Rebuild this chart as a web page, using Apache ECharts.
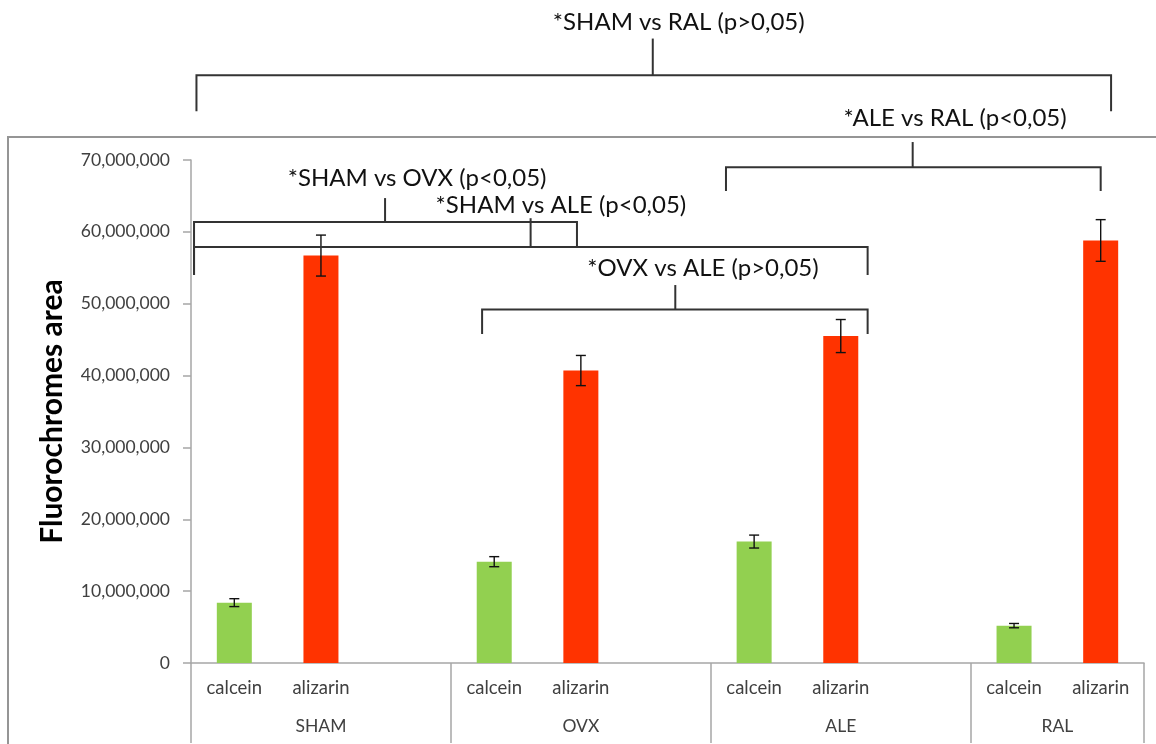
<!DOCTYPE html>
<html>
<head>
<meta charset="utf-8">
<script src="https://cdn.jsdelivr.net/npm/echarts@6/dist/echarts.min.js"></script>
<style>
  html, body { margin: 0; padding: 0; background: #fff; }
  #chart { width: 1156px; height: 744px; }
</style>
</head>
<body>
<div id="chart"></div>
<script>
// Treatment groups and how many category slots each occupies on the axis
const groups = ['SHAM', 'OVX', 'ALE', 'RAL'];
const groupSlots = [3, 3, 3, 2];
const stains = ['calcein', 'alizarin'];

// Fluorochrome area (mean and error) per group
const calceinMean = [8400000, 14100000, 16900000, 5200000];
const calceinErr = [550000, 700000, 900000, 300000];
const alizarinMean = [56700000, 40700000, 45500000, 58800000];
const alizarinErr = [2850000, 2100000, 2300000, 2900000];

// Value axis range
const yMin = 0;
const yMax = 70000000;
const yStep = 10000000;

// Pairwise comparison brackets (x in slot units along the axis, y in axis values)
const comparisons = [
  { text: '*SHAM vs RAL (p>0,05)', x1: 0.063, x2: 10.62, y: 81800000, leftEnd: 76800000, rightEnd: 76800000, tick: 5.33, tickTop: 86900000, labelX: 5.63, labelY: 89200000 },
  { text: '*ALE vs RAL (p<0,05)', x1: 6.175, x2: 10.50, y: 69000000, leftEnd: 65700000, rightEnd: 65700000, tick: 8.33, tickTop: 72500000, labelX: 8.82, labelY: 75800000 },
  { text: '*SHAM vs OVX (p<0,05)', x1: 0.035, x2: 4.455, y: 61370000, leftEnd: 54000000, rightEnd: 57900000, tick: 2.24, tickTop: 64700000, labelX: 2.61, labelY: 67500000 },
  { text: '*SHAM vs ALE (p<0,05)', x1: 0.035, x2: 7.81, y: 57900000, leftEnd: 54000000, rightEnd: 54000000, tick: 3.92, tickTop: 61900000, labelX: 4.27, labelY: 63700000 },
  { text: '*OVX vs ALE (p>0,05)', x1: 3.36, x2: 7.81, y: 49200000, leftEnd: 45800000, rightEnd: 45800000, tick: 5.59, tickTop: 52600000, labelX: 5.91, labelY: 55000000 }
];

const FONT = 'Lato, "Open Sans", "Liberation Sans", sans-serif';
const AXIS_GRAY = '#a6a6a6';
const LABEL_GRAY = '#404040';

// Build the slot layout: each group holds calcein, alizarin and blank spacer slots
const slotLabels = [];
const calceinSlots = [];
const alizarinSlots = [];
const groupBounds = [0];
const groupCenters = [];
let cursor = 0;
groups.forEach((g, gi) => {
  const n = groupSlots[gi];
  for (let k = 0; k < n; k++) {
    slotLabels.push(k < stains.length ? stains[k] : '');
    calceinSlots.push(k === 0 ? calceinMean[gi] : null);
    alizarinSlots.push(k === 1 ? alizarinMean[gi] : null);
  }
  groupCenters.push(cursor + n / 2);
  cursor += n;
  groupBounds.push(cursor);
});
const slotCount = cursor;

// Error bar items: [slot index, mean, error]
const errorItems = [];
cursor = 0;
groups.forEach((g, gi) => {
  errorItems.push([cursor, calceinMean[gi], calceinErr[gi]]);
  errorItems.push([cursor + 1, alizarinMean[gi], alizarinErr[gi]]);
  cursor += groupSlots[gi];
});

const fmt = v => String(v).replace(/\B(?=(\d{3})+(?!\d))/g, ',');

const chart = echarts.init(document.getElementById('chart'));
chart.setOption({
  backgroundColor: '#fff',
  animation: false,
  graphic: [{
    type: 'rect',
    z: -10,
    shape: { x: 8, y: 137, width: 1300, height: 800 },
    style: { fill: 'none', stroke: '#959595', lineWidth: 2 }
  }],
  grid: { left: 191, right: 12, top: 160, bottom: 81, containLabel: false },
  xAxis: [{
    type: 'category',
    data: slotLabels,
    boundaryGap: true,
    axisLine: { lineStyle: { color: AXIS_GRAY, width: 1.5 } },
    axisTick: { interval: 0, length: 40, lineStyle: { color: AXIS_GRAY, width: 1.5 } },
    axisLabel: { interval: 0, margin: 16, fontSize: 18.5, color: LABEL_GRAY, fontFamily: FONT },
    splitLine: { show: false }
  }, {
    type: 'value',
    position: 'bottom',
    min: 0,
    max: slotCount,
    axisLine: { show: false },
    axisTick: { show: true, customValues: groupBounds, length: 80, lineStyle: { color: AXIS_GRAY, width: 1.5 } },
    axisLabel: {
      customValues: groupCenters,
      margin: 54,
      fontSize: 17.5,
      color: LABEL_GRAY,
      fontFamily: FONT,
      formatter: v => {
        const i = groupCenters.findIndex(c => Math.abs(c - v) < 1e-6);
        return i >= 0 ? groups[i] : '';
      }
    },
    splitLine: { show: false }
  }],
  yAxis: {
    type: 'value',
    min: yMin,
    max: yMax,
    interval: yStep,
    name: 'Fluorochromes area',
    nameLocation: 'middle',
    nameGap: 124,
    nameTextStyle: { fontSize: 30, fontWeight: 'bold', color: '#000', fontFamily: FONT },
    axisLine: { show: true, lineStyle: { color: AXIS_GRAY, width: 1.5 } },
    axisTick: { show: true, length: 8, lineStyle: { color: AXIS_GRAY, width: 1.5 } },
    axisLabel: { margin: 21, fontSize: 17.5, color: LABEL_GRAY, fontFamily: FONT, formatter: fmt },
    splitLine: { show: false }
  },
  series: [{
    name: 'calcein',
    type: 'bar',
    xAxisIndex: 0,
    data: calceinSlots,
    barWidth: 35,
    barGap: '-100%',
    itemStyle: { color: '#92D050' }
  }, {
    name: 'alizarin',
    type: 'bar',
    xAxisIndex: 0,
    data: alizarinSlots,
    barWidth: 35,
    barGap: '-100%',
    itemStyle: { color: '#FF3300' }
  }, {
    name: 'error',
    type: 'custom',
    xAxisIndex: 0,
    z: 5,
    data: errorItems,
    encode: { x: 0, y: 1 },
    renderItem: (params, api) => {
      const idx = api.value(0);
      const m = api.value(1);
      const e = api.value(2);
      const hi = api.coord([idx, m + e]);
      const lo = api.coord([idx, m - e]);
      const cap = 5;
      const st = { stroke: '#111', lineWidth: 1.4 };
      return {
        type: 'group',
        children: [
          { type: 'line', shape: { x1: hi[0], y1: hi[1], x2: lo[0], y2: lo[1] }, style: st },
          { type: 'line', shape: { x1: hi[0] - cap, y1: hi[1], x2: hi[0] + cap, y2: hi[1] }, style: st },
          { type: 'line', shape: { x1: lo[0] - cap, y1: lo[1], x2: lo[0] + cap, y2: lo[1] }, style: st }
        ]
      };
    }
  }, {
    name: 'comparisons',
    type: 'custom',
    xAxisIndex: 1,
    z: 6,
    clip: false,
    data: comparisons.map(c => [c.x1, c.y]),
    encode: { x: 0, y: 1 },
    renderItem: (params, api) => {
      const c = comparisons[params.dataIndex];
      const p = (x, y) => api.coord([x, y]);
      const st = { stroke: '#333', lineWidth: 2, fill: 'none' };
      const t0 = p(c.tick, c.y);
      const t1 = p(c.tick, c.tickTop);
      const lab = p(c.labelX, c.labelY);
      return {
        type: 'group',
        children: [
          { type: 'polyline', shape: { points: [p(c.x1, c.leftEnd), p(c.x1, c.y), p(c.x2, c.y), p(c.x2, c.rightEnd)] }, style: st },
          { type: 'line', shape: { x1: t0[0], y1: t0[1], x2: t1[0], y2: t1[1] }, style: st },
          { type: 'text', style: { text: c.text, x: lab[0], y: lab[1], align: 'center', verticalAlign: 'middle', fontSize: 24, fontFamily: FONT, fill: '#111' } }
        ]
      };
    }
  }]
});
</script>
</body>
</html>
